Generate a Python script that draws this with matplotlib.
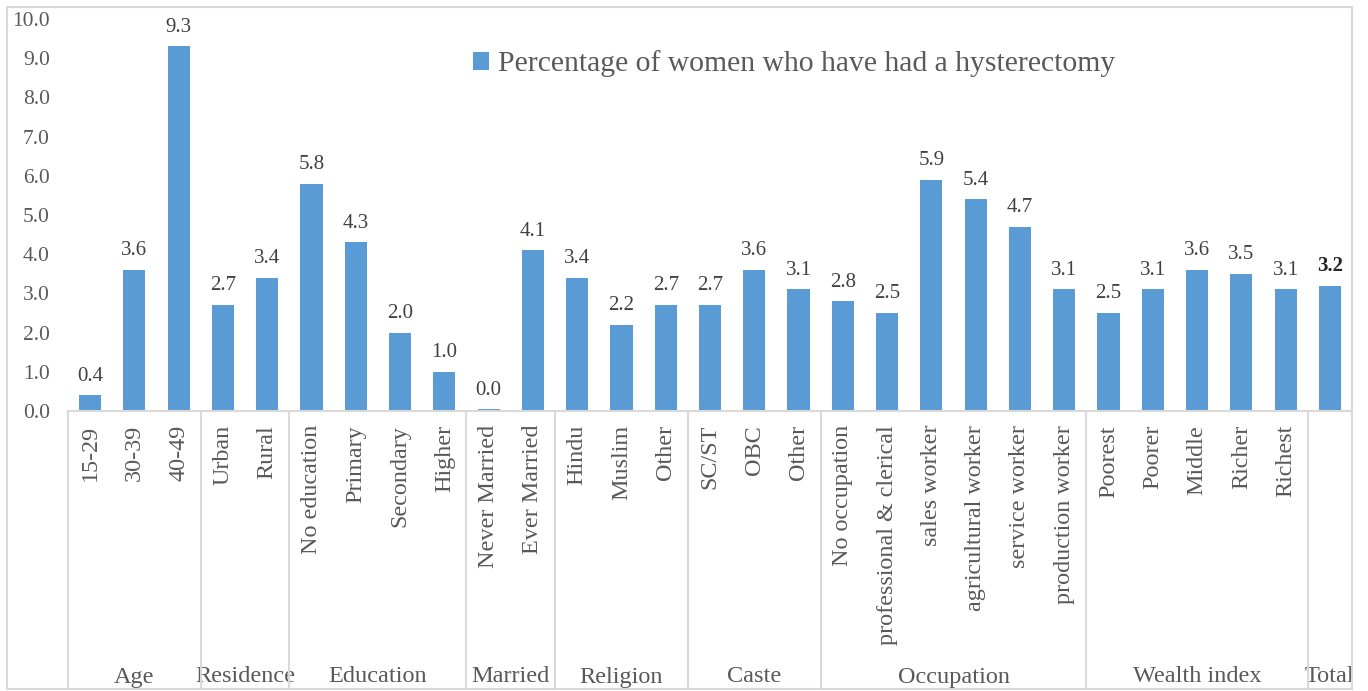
import matplotlib
matplotlib.use("Agg")
import matplotlib.pyplot as plt
from matplotlib.patches import Rectangle
from matplotlib.lines import Line2D
from matplotlib.transforms import blended_transform_factory

plt.rcParams['font.family'] = ['Liberation Serif', 'DejaVu Serif']

categories = ["15-29", "30-39", "40-49",
              "Urban", "Rural",
              "No education", "Primary", "Secondary", "Higher",
              "Never Married", "Ever Married",
              "Hindu", "Muslim", "Other",
              "SC/ST", "OBC", "Other",
              "No occupation", "professional & clerical", "sales worker",
              "agricultural worker", "service worker", "production worker",
              "Poorest", "Poorer", "Middle", "Richer", "Richest",
              ""]
values = [0.4, 3.6, 9.3,
          2.7, 3.4,
          5.8, 4.3, 2.0, 1.0,
          0.04, 4.1,
          3.4, 2.2, 2.7,
          2.7, 3.6, 3.1,
          2.8, 2.5, 5.9, 5.4, 4.7, 3.1,
          2.5, 3.1, 3.6, 3.5, 3.1,
          3.2]
groups = ["Age", "Residence", "Education", "Married", "Religion", "Caste",
          "Occupation", "Wealth index", "Total"]
group_sizes = [3, 2, 4, 2, 3, 3, 6, 5, 1]
series_name = "Percentage of women who have had a hysterectomy"
yticks = [0, 1, 2, 3, 4, 5, 6, 7, 8, 9, 10]

BAR = "#5B9BD5"
TXT = "#595959"
LINE = "#D9D9D9"

W, H = 1368, 691
fig = plt.figure(figsize=(W / 100, H / 100), dpi=100)
left, right, bottom, top = 68, 1352, 411, 19
ax = fig.add_axes([left / W, 1 - bottom / H, (right - left) / W, (bottom - top) / H])

x = list(range(len(categories)))
bars = ax.bar(x, values, width=0.5, color=BAR, label=series_name, zorder=2)
ax.set_xlim(-0.5, len(categories) - 0.5)
ax.set_ylim(0, 10)
ax.set_yticks(yticks)
ax.set_yticklabels([f"{t:.1f}" for t in yticks], fontsize=15.5, color=TXT)
ax.tick_params(axis='y', length=0, pad=13)
ax.set_xticks([])
for s in ["top", "right", "left"]:
    ax.spines[s].set_visible(False)
ax.spines["bottom"].set_color(LINE)
ax.spines["bottom"].set_linewidth(1.5)

# data labels
for i, v in enumerate(values):
    bold = (i == len(values) - 1)
    ax.annotate(f"{v:.1f}", (i, v), xytext=(0, 7), textcoords="offset points",
                ha="center", va="bottom", fontsize=15,
                color="#262626" if bold else "#404040",
                fontweight="bold" if bold else "normal")

# category labels (rotated)
trans = blended_transform_factory(ax.transData, fig.transFigure)
for i, c in enumerate(categories):
    if c:
        ax.text(i, 1 - 425 / H, c, rotation=90, ha="center", va="top", fontsize=17.4,
                color=TXT, transform=trans, clip_on=False)

# outer border
border = Rectangle((7 / W, 1 - 689 / H), (1352 - 7) / W, (689 - 7) / H,
                   transform=fig.transFigure, fill=False, edgecolor=LINE, lw=1.5)
fig.add_artist(border)

# group dividers and labels
pos = -0.5
bounds = [pos]
for n in group_sizes:
    pos += n
    bounds.append(pos)
for b in bounds:
    fig.add_artist(Line2D([b, b], [1 - 411 / H, 1 - 689 / H], color=LINE, lw=1.5,
                          transform=trans))
for g, a, b in zip(groups, bounds[:-1], bounds[1:]):
    t = ax.text((a + b) / 2, 1 - 677 / H, g, ha="center", va="center", fontsize=17.5,
                color=TXT, transform=trans, clip_on=True)
    t.set_clip_path(border)

leg = ax.legend(loc="center left", bbox_to_anchor=(473 / W, 1 - 64 / H),
                bbox_transform=fig.transFigure, frameon=False, fontsize=21.3,
                handlelength=0.55, handleheight=0.55, handletextpad=0.3,
                borderpad=0, borderaxespad=0)
for t in leg.get_texts():
    t.set_color(TXT)

fig.savefig("out.png", dpi=100, facecolor="white")
